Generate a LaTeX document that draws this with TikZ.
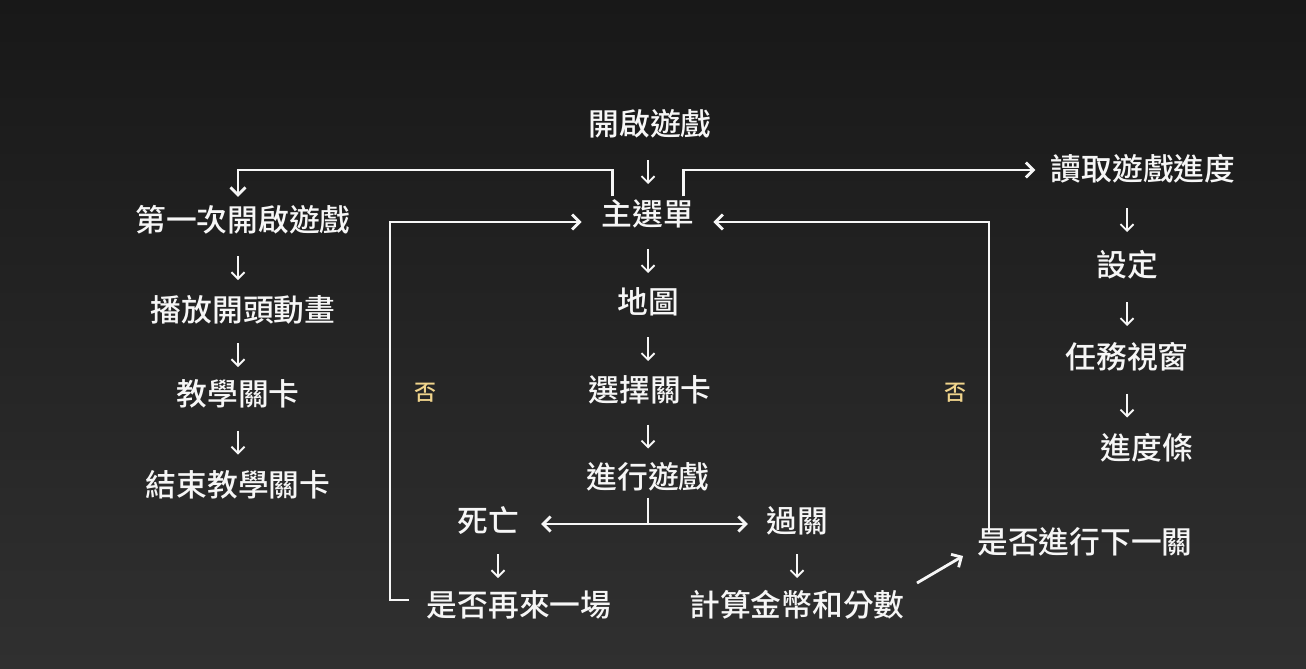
\documentclass[tikz,border=0pt]{standalone}
\usepackage{fontspec}
\setmainfont{Noto Sans CJK TC Medium}
\usepackage{tikz}
\usetikzlibrary{calc}
\usetikzlibrary{arrows.meta}

\definecolor{chalk}{RGB}{246,246,246}
\definecolor{nogold}{RGB}{240,212,140}
\definecolor{boardtop}{RGB}{24,24,24}
\definecolor{boardbot}{RGB}{48,48,48}

\begin{document}
\begin{tikzpicture}[
		box/.style={inner sep=0pt, text height=0.95em, text depth=0pt, text=chalk, font=\fontsize{17.5}{20}\selectfont},
		no/.style={inner sep=0pt, text=nogold, font=\fontsize{12.5}{15}\selectfont},
		down/.style={draw=chalk, line width=1.1pt, -{Straight Barb[length=1.3mm,width=2.6mm]},
			to path={($(\tikztostart)!0.5!(\tikztotarget)$) ++(0,0.24) -- ++(0,-0.48) \tikztonodes}},
		link/.style={draw=chalk, line width=1.6pt, -{Straight Barb[length=1.5mm,width=3mm]}},
		plain/.style={draw=chalk, line width=1.6pt}
	]
				\useasboundingbox (0,0) rectangle (26.12,-13.36);
				\shade[top color=boardtop, bottom color=boardbot] (0,0) rectangle (26.12,-13.36);
				
				% middle column
				\node[box] (start) at (13.0,-2.54) {開啟遊戲};
				\node[box] (menu) at (12.96,-4.34) {主選單};
				\node[box] (map) at (12.96,-6.10) {地圖};
				\node[box] (select) at (13.0,-7.86) {選擇關卡};
				\node[box] (play) at (12.96,-9.60) {進行遊戲};
				\node[box] (die) at (9.76,-10.48) {死亡};
				\node[box] (clear) at (15.94,-10.48) {過關};
				\node[box] (retry) at (10.38,-12.16) {是否再來一場};
				\node[box] (score) at (15.94,-12.16) {計算金幣和分數};
				\node[box] (next) at (21.70,-10.90) {是否進行下一關};
				
				% left column
				\node[box] (first) at (4.86,-4.46) {第一次開啟遊戲};
				\node[box] (anim) at (4.86,-6.26) {播放開頭動畫};
				\node[box] (tut) at (4.76,-7.94) {教學關卡};
				\node[box] (endtut) at (4.76,-9.76) {結束教學關卡};
				
				% right column
				\node[box] (load) at (22.86,-3.44) {讀取遊戲進度};
				\node[box] (set) at (22.54,-5.36) {設定};
				\node[box] (task) at (22.54,-7.20) {任務視窗};
				\node[box] (bar) at (22.94,-9.02) {進度條};
				
				\node[no] (no1) at (8.50,-7.86) {否};
				\node[no] (no2) at (19.10,-7.86) {否};
				
				\coordinate (top) at (0,-3.40);
				\coordinate (lx) at (7.80,0);
				
				\draw[down] (start.south -| menu) to (menu.north);
				\draw[down] (menu.south) to (map.north);
				\draw[down] (map.south) to (select.north -| map);
				\draw[down] (select.south -| map) to (play.north -| map);
				\draw[down] (first.south -| tut) to (anim.north -| tut);
				\draw[down] (anim.south -| tut) to (tut.north);
				\draw[down] (tut.south) to (endtut.north);
				\draw[down] (load.south -| set) to (set.north);
				\draw[down] (set.south) to (task.north);
				\draw[down] (task.south) to (bar.north -| task);
				\draw[down] ([xshift=0.2cm]die.south) to ([xshift=0.2cm]die.south |- retry.north);
				\draw[down] (clear.south) to (score.north);
				
				\draw[link] ([xshift=0.22cm,yshift=0.24cm]menu.north west) -- ([xshift=0.22cm]menu.north west |- top) -| ([yshift=0.35cm]first.north -| tut);
				\draw[link] ([xshift=-0.22cm,yshift=0.24cm]menu.north east) -- ([xshift=-0.22cm]menu.north east |- top) -- ([xshift=-0.3cm]load.west |- top);
				\draw[link] ([xshift=-0.34cm,yshift=0.16cm]retry.west) -| ([yshift=-0.1cm]lx |- menu) -- ([xshift=-0.4cm,yshift=-0.1cm]menu.west);
				\draw[link] ([xshift=0.24cm,yshift=0.04cm]next.north west) |- ([xshift=0.38cm,yshift=-0.1cm]menu.east);
				\draw[plain] ([yshift=-0.18cm]play.south) -- (play |- die);
				\draw[link, {Straight Barb[length=1.5mm,width=3mm]}-{Straight Barb[length=1.5mm,width=3mm]}] ([xshift=0.44cm]die.east) -- ([xshift=-0.36cm]clear.west);
				\draw[link] ([xshift=0.24cm,yshift=0.5cm]score.east) -- ([xshift=-0.28cm,yshift=-0.22cm]next.west);
\end{tikzpicture}
\end{document}
